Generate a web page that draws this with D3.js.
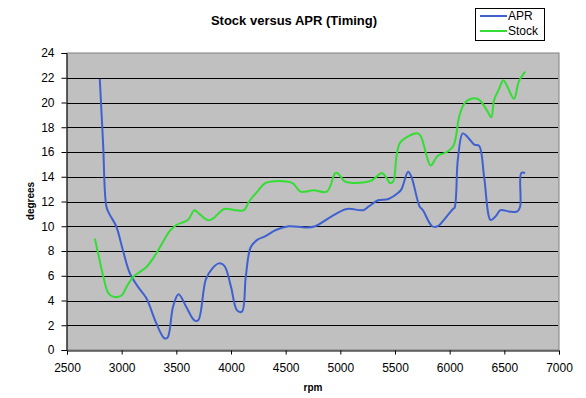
<!DOCTYPE html>
<html>
<head>
<meta charset="utf-8">
<script src="https://cdn.jsdelivr.net/npm/d3@7"></script>
<style>
  html, body { margin: 0; padding: 0; background: #fff; }
  svg { display: block; font-family: "Liberation Sans", Arial, sans-serif; }
</style>
</head>
<body>
<svg id="chart" width="586" height="398"></svg>
<script>
const title = "Stock versus APR (Timing)";
const xTicks = [2500, 3000, 3500, 4000, 4500, 5000, 5500, 6000, 6500, 7000];
const yTicks = [0, 2, 4, 6, 8, 10, 12, 14, 16, 18, 20, 22, 24];
const seriesNames = ["APR", "Stock"];

const aprRpm = [2800, 2830, 2860, 2887, 2950, 3010, 3075, 3150, 3225, 3315, 3390, 3420, 3470, 3520, 3590, 3665, 3700, 3770, 3830, 3890, 3940, 4000, 4055, 4100, 4135, 4180, 4240, 4315, 4410, 4530, 4680, 4770, 4920, 5060, 5210, 5260, 5345, 5440, 5530, 5560, 5620, 5650, 5725, 5755, 5840, 5890, 5955, 6030, 6045, 6075, 6120, 6165, 6225, 6270, 6315, 6375, 6420, 6465, 6540, 6620, 6645, 6655, 6690];
const aprDeg = [21.9, 16.7, 11.6, 11.0, 10.0, 8.1, 6.2, 5.1, 4.2, 2.2, 0.95, 1.0, 3.5, 4.5, 3.5, 2.4, 2.4, 5.7, 6.6, 7.0, 6.8, 5.1, 3.2, 3.1, 5.9, 8.3, 8.9, 9.2, 9.7, 10.0, 9.9, 10.0, 10.8, 11.4, 11.3, 11.6, 12.1, 12.2, 12.7, 13.0, 14.4, 14.0, 11.6, 11.3, 10.0, 10.0, 10.6, 11.4, 11.5, 15.4, 17.5, 17.2, 16.6, 16.5, 14.0, 10.5, 10.8, 11.3, 11.2, 11.2, 11.6, 14.3, 14.3];

const stockRpm = [2755, 2785, 2833, 2878, 2924, 3000, 3045, 3105, 3165, 3227, 3287, 3363, 3439, 3500, 3605, 3665, 3710, 3787, 3832, 3938, 4044, 4120, 4165, 4241, 4317, 4559, 4635, 4756, 4877, 4953, 4975, 5044, 5135, 5286, 5380, 5422, 5453, 5483, 5513, 5543, 5589, 5710, 5740, 5786, 5826, 5892, 5975, 6035, 6088, 6133, 6194, 6254, 6284, 6345, 6381, 6406, 6452, 6491, 6527, 6588, 6633, 6690];
const stockDeg = [9.0, 7.8, 5.9, 4.6, 4.3, 4.4, 5.1, 5.9, 6.3, 6.7, 7.4, 8.5, 9.6, 10.1, 10.5, 11.3, 11.0, 10.5, 10.6, 11.4, 11.3, 11.3, 12.0, 12.8, 13.5, 13.5, 12.8, 12.9, 12.8, 14.3, 14.3, 13.6, 13.5, 13.7, 14.3, 13.9, 13.5, 13.6, 15.6, 16.7, 17.1, 17.5, 17.2, 15.8, 14.9, 15.7, 16.0, 16.5, 18.9, 19.9, 20.3, 20.3, 20.1, 19.3, 18.8, 20.2, 21.1, 21.8, 21.3, 20.3, 21.7, 22.5];

const colors = { APR: "#3f60d0", Stock: "#33dd33" };

const svg = d3.select("#chart");
const pLeft = 67, pRight = 559, pTop = 53, pBottom = 350;

const x = d3.scaleLinear().domain([2500, 7000]).range([pLeft, pRight]);
const y = d3.scaleLinear().domain([0, 24]).range([pBottom, pTop]);

// plot background
svg.append("rect").attr("x", pLeft).attr("y", pTop).attr("width", pRight - pLeft).attr("height", pBottom - pTop)
  .attr("fill", "#c0c0c0").attr("stroke", "#808080").attr("stroke-width", 1);

// gridlines
svg.append("g").selectAll("line").data(yTicks.filter(d => d > 0 && d < 24)).join("line")
  .attr("x1", pLeft).attr("x2", pRight - 1)
  .attr("y1", d => Math.round(y(d)) + 0.5).attr("y2", d => Math.round(y(d)) + 0.5)
  .attr("stroke", "#000").attr("stroke-width", 1);

// axes
const xAxis = d3.axisBottom(x).tickValues(xTicks).tickSize(4).tickPadding(9).tickFormat(d3.format("d"));
const gx = svg.append("g").attr("transform", `translate(0,${pBottom + 0.5})`).call(xAxis);
const yAxis = d3.axisLeft(y).tickValues(yTicks).tickSize(5).tickPadding(7).tickFormat(d3.format("d"));
const gy = svg.append("g").attr("transform", `translate(${pLeft - 0.5},0)`).call(yAxis);
[gx, gy].forEach(g => {
  g.select(".domain").attr("stroke", "#000");
  g.selectAll(".tick line").attr("stroke", "#000");
  g.selectAll(".tick text").attr("fill", "#000").style("font-size", "12px").style("font-family", "Liberation Sans, Arial, sans-serif");
});

// lines
const line = d3.line().x(d => x(d[0])).y(d => y(d[1])).curve(d3.curveCatmullRom.alpha(0.5));
const aprData = aprRpm.map((r, i) => [r, aprDeg[i]]);
const stockData = stockRpm.map((r, i) => [r, stockDeg[i]]);
svg.append("path").datum(aprData).attr("d", line).attr("fill", "none")
  .attr("stroke", colors.APR).attr("stroke-width", 2).attr("stroke-linejoin", "round");
svg.append("path").datum(stockData).attr("d", line).attr("fill", "none")
  .attr("stroke", colors.Stock).attr("stroke-width", 2).attr("stroke-linejoin", "round");

// title
svg.append("text").attr("x", 294).attr("y", 25).attr("text-anchor", "middle")
  .style("font-size", "13px").style("font-weight", "bold").text(title);

// axis titles
svg.append("text").attr("x", 313).attr("y", 391).attr("text-anchor", "middle")
  .style("font-size", "10px").style("font-weight", "bold").text("rpm");
svg.append("text").attr("transform", "translate(34,201) rotate(-90)").attr("text-anchor", "middle")
  .style("font-size", "10px").style("font-weight", "bold").text("degrees");

// legend
const lg = svg.append("g");
lg.append("rect").attr("x", 475.5).attr("y", 8.5).attr("width", 69).attr("height", 32)
  .attr("fill", "#fff").attr("stroke", "#000").attr("stroke-width", 1);
seriesNames.forEach((name, i) => {
  const yy = 16 + i * 15;
  lg.append("line").attr("x1", 480).attr("x2", 507).attr("y1", yy).attr("y2", yy)
    .attr("stroke", colors[name]).attr("stroke-width", 2);
  lg.append("text").attr("x", 508).attr("y", yy + 4).style("font-size", "12px").text(name);
});
</script>
</body>
</html>
